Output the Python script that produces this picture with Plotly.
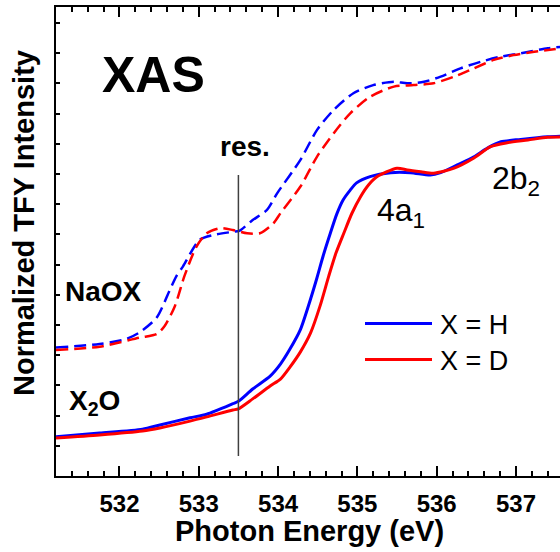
import plotly.graph_objects as go

# ---------------- data ----------------
X2O_H_x = [531.20, 531.75, 532.29, 532.51, 532.89, 533.10, 533.43, 533.50, 533.68, 533.90,
           534.03, 534.15, 534.28, 534.41, 534.49, 534.57, 534.66, 534.74, 534.82, 534.91,
           534.99, 535.16, 535.42, 535.67, 535.92, 536.05, 536.26, 536.47, 536.64, 536.81,
           537.06, 537.40, 537.57]
X2O_H_y = [1.31, 1.43, 1.56, 1.70, 1.94, 2.06, 2.41, 2.49, 2.90, 3.33,
           3.73, 4.23, 4.87, 5.90, 6.60, 7.35, 8.10, 8.73, 9.20, 9.53,
           9.77, 9.98, 10.11, 10.11, 10.03, 10.11, 10.37, 10.64, 10.93, 11.14,
           11.22, 11.31, 11.33]

X2O_D_x = [531.20, 531.75, 532.29, 532.51, 532.89, 533.10, 533.43, 533.50, 533.68, 533.90,
           534.03, 534.15, 534.28, 534.41, 534.53, 534.64, 534.73, 534.83, 534.93, 535.04,
           535.14, 535.25, 535.50, 535.63, 535.80, 535.96, 536.22, 536.47, 536.68, 536.89,
           537.15, 537.40, 537.57]
X2O_D_y = [1.27, 1.37, 1.50, 1.60, 1.83, 1.97, 2.20, 2.24, 2.57, 3.00,
           3.23, 3.63, 4.13, 4.77, 5.67, 6.67, 7.43, 8.10, 8.75, 9.31,
           9.70, 9.98, 10.26, 10.20, 10.14, 10.09, 10.26, 10.60, 10.98, 11.11,
           11.20, 11.29, 11.30]

NaOX_H_x = [531.20, 531.75, 532.09, 532.25, 532.47, 532.63, 532.72, 532.80, 533.01, 533.18,
            533.43, 533.51, 533.68, 533.86, 533.99, 534.28, 534.49, 534.70, 534.95, 535.20,
            535.46, 535.63, 535.84, 536.05, 536.30, 536.56, 536.81, 537.06, 537.40, 537.57]
NaOX_H_y = [4.28, 4.40, 4.57, 4.78, 5.28, 6.17, 6.67, 6.98, 7.87, 8.03,
            8.14, 8.17, 8.53, 8.87, 9.43, 10.53, 11.53, 12.20, 12.76, 13.03,
            13.14, 13.09, 13.14, 13.31, 13.59, 13.81, 13.98, 14.09, 14.26, 14.30]

NaOX_D_x = [531.20, 531.75, 532.25, 532.47, 532.57, 532.70, 532.82, 532.97, 533.10, 533.27,
            533.43, 533.61, 533.77, 533.94, 534.03, 534.28, 534.49, 534.70, 534.91, 535.16,
            535.46, 535.71, 535.96, 536.22, 536.47, 536.72, 536.97, 537.23, 537.57]
NaOX_D_y = [4.20, 4.31, 4.61, 4.73, 5.00, 5.67, 6.67, 7.64, 8.09, 8.26,
            8.20, 8.09, 8.09, 8.42, 8.76, 9.64, 10.64, 11.42, 12.09, 12.64,
            12.98, 13.03, 13.09, 13.31, 13.59, 13.87, 14.03, 14.14, 14.26]

RES_E = 533.50
RES_Y = [0.67, 10.03]

X_TICKS = [532, 533, 534, 535, 536, 537]
X_TICK_LABELS = ["532", "533", "534", "535", "536", "537"]
SERIES_NAMES = ["X = H", "X = D"]

# ---------------- styling ----------------
W, H = 560, 552
L, T, B = 56, 7, 76
PW, PH = W - L, H - T - B
BLUE, RED = "#0000FF", "#FF0000"
FONT = "Arial"

def pxp(x):
    return (x - L) / PW

def pyp(y):
    return (H - B - y) / PH

fig = go.Figure()
dash = "12px,6px"
fig.add_trace(go.Scatter(x=NaOX_H_x, y=NaOX_H_y, mode="lines", showlegend=False,
                         line=dict(color=BLUE, width=2.5, dash=dash, shape="spline", smoothing=0.7)))
fig.add_trace(go.Scatter(x=NaOX_D_x, y=NaOX_D_y, mode="lines", showlegend=False,
                         line=dict(color=RED, width=2.5, dash=dash, shape="spline", smoothing=0.7)))
fig.add_trace(go.Scatter(x=X2O_H_x, y=X2O_H_y, mode="lines", showlegend=False,
                         line=dict(color=BLUE, width=3, shape="spline", smoothing=0.7)))
fig.add_trace(go.Scatter(x=X2O_D_x, y=X2O_D_y, mode="lines", showlegend=False,
                         line=dict(color=RED, width=3, shape="spline", smoothing=0.7)))
fig.add_trace(go.Scatter(x=[RES_E, RES_E], y=RES_Y, mode="lines", showlegend=False,
                         line=dict(color="#404040", width=1.5)))

# legend drawn manually (long line samples)
for i, (name, col) in enumerate(zip(SERIES_NAMES, [BLUE, RED])):
    yl = 323.5 + i * 36
    fig.add_shape(type="line", xref="paper", yref="paper",
                  x0=pxp(365), x1=pxp(432), y0=pyp(yl), y1=pyp(yl),
                  line=dict(color=col, width=3))
    fig.add_annotation(xref="paper", yref="paper", x=pxp(438), y=pyp(yl + 1),
                       xanchor="left", yanchor="middle", text=name, showarrow=False,
                       font=dict(family=FONT, size=27, color="black"))

def label(text, x, y, size, bold=True, xanchor="center", angle=0):
    fig.add_annotation(xref="paper", yref="paper", x=pxp(x), y=pyp(y), text=text,
                       showarrow=False, xanchor=xanchor, yanchor="middle", textangle=angle,
                       font=dict(family=FONT, size=size, color="black",
                                 weight="bold" if bold else "normal"))

label("XAS", 153, 75, 50)
label("res.", 245, 146, 28)
label("NaOX", 103, 291, 28)
label("X<sub>2</sub>O", 67, 402, 28, xanchor="left")
label("4a<sub>1</sub>", 375, 212, 32, bold=False, xanchor="left")
label("2b<sub>2</sub>", 490, 180, 32, bold=False, xanchor="left")
label("Photon Energy (eV)", 309.5, 531, 29)
label("Normalized TFY Intensity", 24, 223, 29, angle=-90)

fig.update_layout(
    width=W, height=H,
    margin=dict(l=L, r=0, t=T, b=B, pad=0),
    paper_bgcolor="white", plot_bgcolor="white",
    showlegend=False,
    xaxis=dict(range=[531.20, 537.555], tickvals=X_TICKS, ticktext=X_TICK_LABELS,
               ticks="inside", ticklen=10, tickwidth=2, tickcolor="black",
               showline=True, linewidth=2, linecolor="black", mirror="allticks",
               showgrid=False, zeroline=False,
               minor=dict(dtick=0.2, tick0=532, ticks="inside", ticklen=5, tickwidth=2,
                          tickcolor="black", showgrid=False),
               tickfont=dict(family=FONT, size=24, color="black", weight="bold"),
               ticklabelstandoff=5),
    yaxis=dict(range=[0, PH / 30.0], tick0=0, dtick=30.2 / 30.0,
               ticks="inside", ticklen=4, tickwidth=1.5, tickcolor="black",
               showticklabels=False, showline=True, linewidth=2, linecolor="black",
               mirror=False, showgrid=False, zeroline=False),
)

fig.write_html("out.html")
